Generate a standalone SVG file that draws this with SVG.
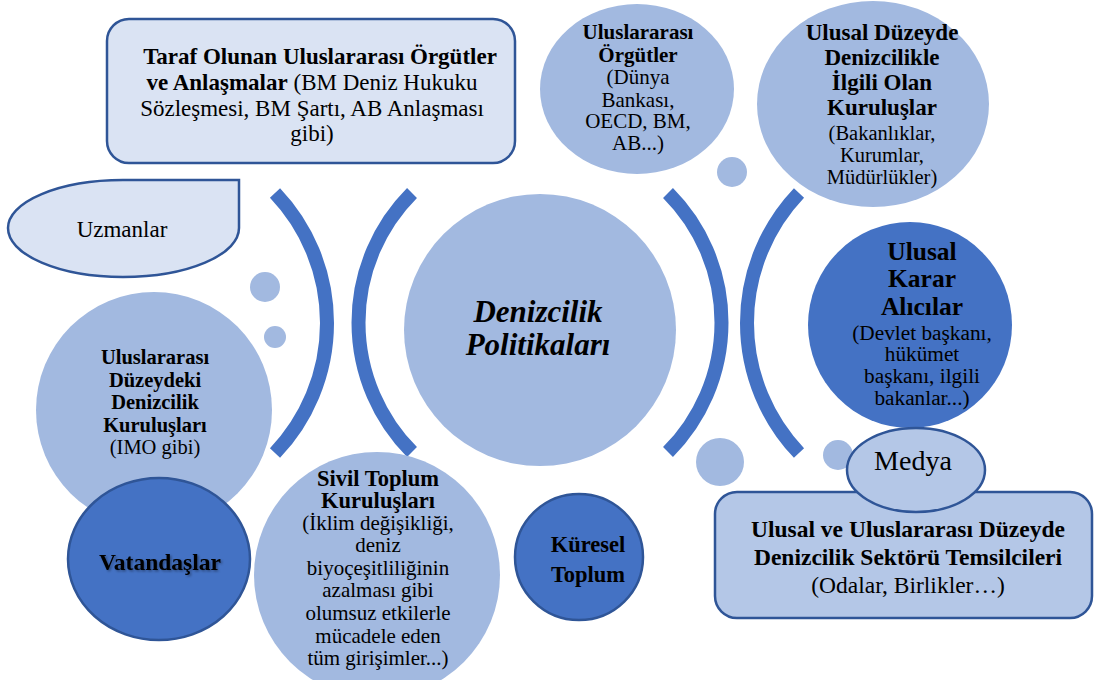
<svg xmlns="http://www.w3.org/2000/svg" width="1094" height="680" viewBox="0 0 1094 680">
<defs>
<style>
text{font-family:"Liberation Serif","Times New Roman",serif;fill:#000;text-anchor:middle}
.b{font-weight:bold}
.light{fill:#A2B9E0}
.dark{fill:#4472C4}
.dk-o{fill:#4472C4;stroke:#2F5597;stroke-width:2.5}
.pale{fill:#DAE3F3;stroke:#2F5597;stroke-width:2.5}
.mid{fill:#B4C7E7;stroke:#2F5597;stroke-width:2.5}
.arc{fill:none;stroke:#4472C4;stroke-width:14}
</style>
<filter id="sh" x="-10%" y="-30%" width="120%" height="160%">
<feDropShadow dx="1.5" dy="1.5" stdDeviation="1" flood-color="#000" flood-opacity="0.35"/>
</filter>
</defs>
<rect width="1094" height="680" fill="#fff"/>

<g id="connectors">
<path class="arc" d="M 275 193 A 188.5 188.5 0 0 1 275 453"/>
<path class="arc" d="M 412 193 A 183.5 183.5 0 0 0 412 452"/>
<path class="arc" d="M 668 193 A 183.5 183.5 0 0 1 668 452"/>
<path class="arc" d="M 799 193 A 188.5 188.5 0 0 0 799 453"/>
</g>

<g id="dots">
<circle class="light" cx="265" cy="287" r="15"/>
<circle class="light" cx="275" cy="337" r="11"/>
<circle class="light" cx="732" cy="172" r="15"/>
<circle class="light" cx="720" cy="462" r="24"/>
<circle class="light" cx="838" cy="455" r="15"/>
</g>

<g id="taraf">
<rect class="pale" x="107" y="19" width="408" height="144" rx="22"/>
<text x="320" y="64" font-size="23" class="b">Taraf Olunan Uluslararası Örgütler</text>
<text x="312" y="90" font-size="23"><tspan class="b">ve Anlaşmalar</tspan> (BM Deniz Hukuku</text>
<text x="312" y="116" font-size="23">Sözleşmesi, BM Şartı, AB Anlaşması</text>
<text x="312" y="141" font-size="23">gibi)</text>
</g>

<g id="uzmanlar">
<path class="pale" d="M 8 228 A 115 48 0 0 1 123 180 L 239 180 L 239 228 A 116 49 0 0 1 123 277 A 115 49 0 0 1 8 228 Z"/>
<text x="122" y="237" font-size="23">Uzmanlar</text>
</g>

<g id="uluslararasi-duzeydeki">
<circle class="light" cx="154" cy="410" r="118"/>
<text font-size="20.5" class="b"><tspan x="155" y="364">Uluslararası</tspan><tspan x="155" y="387">Düzeydeki</tspan><tspan x="155" y="409">Denizcilik</tspan><tspan x="155" y="432">Kuruluşları</tspan></text>
<text x="155" y="454" font-size="20.5">(IMO gibi)</text>
</g>

<g id="vatandaslar">
<ellipse class="dk-o" cx="159" cy="559" rx="91" ry="81"/>
<text x="160" y="570" font-size="23.5" class="b" filter="url(#sh)">Vatandaşlar</text>
</g>

<g id="sivil-toplum">
<circle class="light" cx="377" cy="575" r="123"/>
<text font-size="22.5" class="b"><tspan x="378" y="486">Sivil Toplum</tspan><tspan x="378" y="508">Kuruluşları</tspan></text>
<text font-size="21"><tspan x="378" y="530">(İklim değişikliği,</tspan><tspan x="378" y="552">deniz</tspan><tspan x="378" y="575">biyoçeşitliliğinin</tspan><tspan x="378" y="597">azalması gibi</tspan><tspan x="378" y="620">olumsuz etkilerle</tspan><tspan x="378" y="643">mücadele eden</tspan><tspan x="378" y="665">tüm girişimler...)</tspan></text>
</g>

<g id="denizcilik-politikalari">
<circle class="light" cx="540" cy="330" r="136"/>
<text font-size="31" class="b" font-style="italic"><tspan x="538" y="322">Denizcilik</tspan><tspan x="538" y="355">Politikaları</tspan></text>
</g>

<g id="kuresel-toplum">
<ellipse class="dk-o" cx="579" cy="557" rx="64" ry="63"/>
<text font-size="22.5" class="b"><tspan x="588" y="552">Küresel</tspan><tspan x="588" y="582">Toplum</tspan></text>
</g>

<g id="uluslararasi-orgutler">
<ellipse class="light" cx="637" cy="89" rx="97" ry="85"/>
<text font-size="21" class="b"><tspan x="638" y="39">Uluslararası</tspan><tspan x="638" y="62">Örgütler</tspan></text>
<text font-size="21"><tspan x="638" y="84">(Dünya</tspan><tspan x="638" y="107">Bankası,</tspan><tspan x="638" y="128">OECD, BM,</tspan><tspan x="638" y="150">AB...)</tspan></text>
</g>

<g id="ulusal-duzeyde">
<ellipse class="light" cx="873" cy="104" rx="116" ry="103"/>
<text font-size="23" class="b"><tspan x="882" y="40">Ulusal Düzeyde</tspan><tspan x="882" y="65">Denizcilikle</tspan><tspan x="882" y="90">İlgili Olan</tspan><tspan x="882" y="115">Kuruluşlar</tspan></text>
<text font-size="20.5"><tspan x="882" y="140">(Bakanlıklar,</tspan><tspan x="882" y="162">Kurumlar,</tspan><tspan x="882" y="184">Müdürlükler)</tspan></text>
</g>

<g id="ulusal-karar">
<ellipse class="dark" cx="910" cy="325" rx="102" ry="103"/>
<text font-size="25.5" class="b"><tspan x="922" y="260">Ulusal</tspan><tspan x="922" y="287">Karar</tspan><tspan x="922" y="315">Alıcılar</tspan></text>
<text font-size="21.3"><tspan x="922" y="340">(Devlet başkanı,</tspan><tspan x="922" y="361">hükümet</tspan><tspan x="922" y="383">başkanı, ilgili</tspan><tspan x="922" y="405">bakanlar...)</tspan></text>
</g>

<g id="sektor">
<rect class="mid" x="715" y="492" width="377" height="126" rx="22"/>
<text font-size="23.5" class="b"><tspan x="908" y="537">Ulusal ve Uluslararası Düzeyde</tspan><tspan x="908" y="565">Denizcilik Sektörü Temsilcileri</tspan></text>
<text x="908" y="593" font-size="23.5">(Odalar, Birlikler…)</text>
</g>

<g id="medya">
<ellipse class="mid" cx="916" cy="470" rx="69" ry="42"/>
<text x="913" y="470" font-size="28">Medya</text>
</g>
</svg>
